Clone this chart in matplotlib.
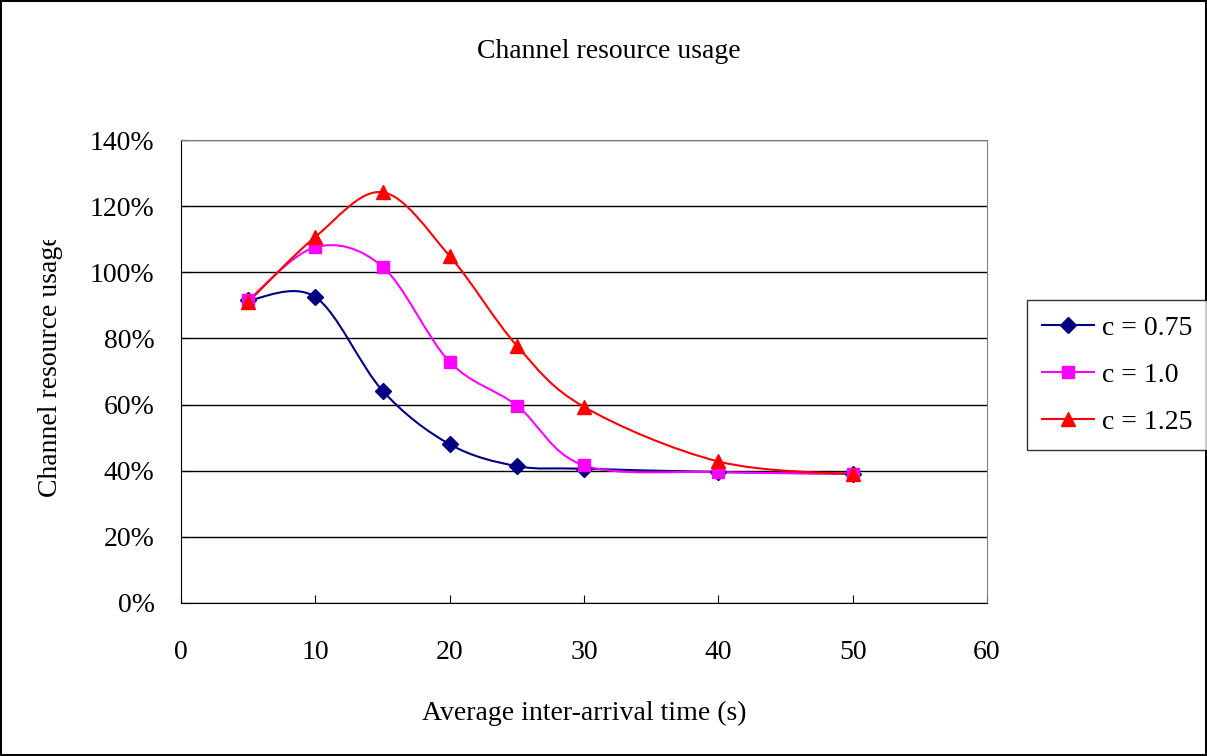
import numpy as np
import matplotlib
matplotlib.use("Agg")
from matplotlib import pyplot as plt
from matplotlib.path import Path
from matplotlib.patches import PathPatch, Rectangle
from matplotlib.lines import Line2D
from matplotlib.ticker import PercentFormatter

plt.rcParams['font.family'] = ['Liberation Serif', 'DejaVu Serif']

# Data
arrival_time = [5, 10, 15, 20, 25, 30, 40, 50]
usage_c075 = [91.5, 92.5, 64.2, 48.0, 41.4, 40.6, 39.6, 39.1]
usage_c100 = [91.5, 107.6, 101.7, 72.9, 59.7, 41.6, 39.6, 39.1]
usage_c125 = [91.0, 110.7, 124.2, 104.9, 77.8, 59.3, 42.8, 38.9]

series = [
    ("c = 0.75", usage_c075, "#000080", "D", 8),
    ("c = 1.0", usage_c100, "#FF00FF", "s", 8),
    ("c = 1.25", usage_c125, "#FF0000", "^", 10),
]


def smooth_path(x, y):
    # Excel-style smoothed line: cubic Bezier segments, Catmull-Rom control points
    pts = np.column_stack([x, y]).astype(float)
    n = len(pts)
    verts = [pts[0]]
    codes = [Path.MOVETO]
    for i in range(n - 1):
        p0 = pts[i - 1] if i > 0 else pts[i]
        p1 = pts[i]
        p2 = pts[i + 1]
        p3 = pts[i + 2] if i + 2 < n else pts[i + 1]
        c1 = p1 + (p2 - p0) / 6.0
        c2 = p2 - (p3 - p1) / 6.0
        verts += [c1, c2, p2]
        codes += [Path.CURVE4] * 3
    return Path(verts, codes)


fig = plt.figure(figsize=(12.07, 7.56), dpi=100)
fig.patch.set_edgecolor("black")
fig.patch.set_linewidth(1.5)
ax = fig.add_axes([0.15, 0.2024, 0.6677, 0.6124])

handles = []
for label, vals, color, marker, ms in series:
    ax.add_patch(PathPatch(smooth_path(arrival_time, vals), fill=False,
                           edgecolor=color, lw=1.5, zorder=3))
    ax.plot(arrival_time, vals, linestyle="none", marker=marker, color=color,
            markersize=ms, zorder=4, clip_on=False)
    handles.append(Line2D([], [], color=color, lw=1.5, marker=marker, markersize=ms))

ax.set_xlim(0, 60)
ax.set_ylim(0, 140)
ax.set_xticks(np.arange(0, 61, 10))
ax.set_yticks(np.arange(0, 141, 20))
ax.yaxis.set_major_formatter(PercentFormatter(decimals=0))
ax.grid(axis="y", color="black", lw=1)
ax.set_axisbelow(True)
ax.tick_params(axis="x", direction="in", length=6, pad=27, labelsize=20)
ax.tick_params(axis="y", direction="in", length=6, pad=19, labelsize=20)
for s in ["top", "right"]:
    ax.spines[s].set_color("#808080")
for s in ["left", "bottom"]:
    ax.spines[s].set_color("black")

ax.set_xlabel("Average inter-arrival time (s)", fontsize=20, va="center")
ax.xaxis.set_label_coords(0.5, (603 - 713) / 463)
ylab = ax.set_ylabel("Channel resource usage", fontsize=20, va="center",
                     ha="center")
ax.yaxis.set_label_coords((50 - 181) / 806, (603 - 365) / 463)
# the reference label is cut off at its top end
clip = Rectangle((0, 0), 1, 1 - 240 / 756, transform=fig.transFigure,
                 visible=False)
fig.add_artist(clip)
ylab.set_clip_path(clip)
ylab.set_clip_on(True)

fig.text(609 / 1207, 1 - 52 / 756, "Channel resource usage", fontsize=20,
         ha="center", va="center")

leg = fig.legend(handles, [s[0] for s in series], loc="upper left",
                 bbox_to_anchor=(1027 / 1207, 1 - 300 / 756), fontsize=20,
                 frameon=True, fancybox=False, edgecolor="black",
                 handlelength=1.85, borderpad=0.55, labelspacing=0.78,
                 handletextpad=0.3, borderaxespad=0)
leg.get_frame().set_linewidth(1)

fig.savefig("out.png", dpi=100)
